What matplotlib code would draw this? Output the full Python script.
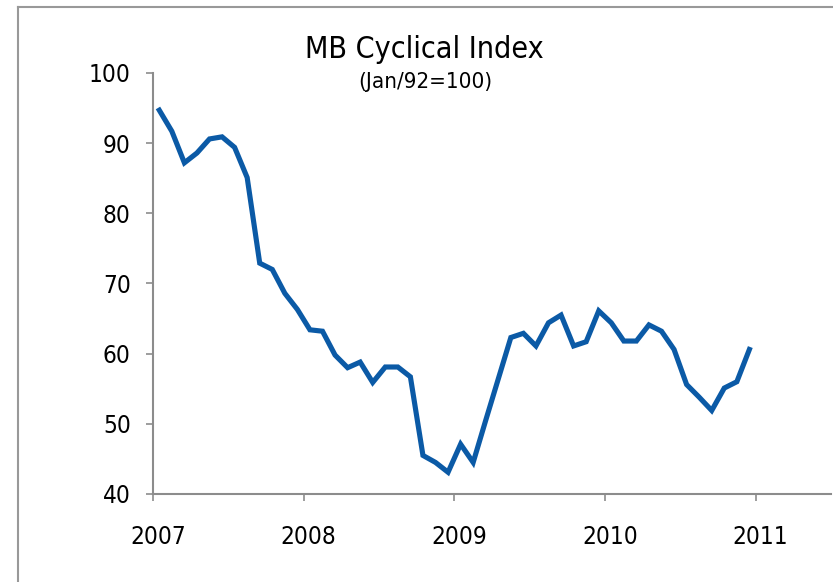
import matplotlib
matplotlib.use('Agg')
import matplotlib.pyplot as plt
from matplotlib import font_manager
from matplotlib.transforms import ScaledTranslation

# monthly index, Jan 2007 - Dec 2010
values = [94.7, 91.7, 87.2, 88.6, 90.6, 90.9, 89.4, 85.1, 72.9, 72.0, 68.6, 66.3,
          63.4, 63.2, 59.8, 58.0, 58.8, 55.9, 58.1, 58.1, 56.7, 45.5, 44.5, 43.1,
          47.1, 44.5, 50.5, 56.4, 62.3, 62.9, 61.1, 64.4, 65.5, 61.1, 61.7, 66.1,
          64.4, 61.8, 61.8, 64.1, 63.2, 60.6, 55.6, 53.8, 51.9, 55.1, 56.0, 60.6]
years = ['2007', '2008', '2009', '2010', '2011']
yticks = [40, 50, 60, 70, 80, 90, 100]

months = [i + 0.5 for i in range(len(values))]

# Tahoma-ish look: condensed DejaVu if it is there, else Liberation Sans Narrow
cond = font_manager.findfont(font_manager.FontProperties(family='DejaVu Sans', stretch='condensed'))
if 'Condensed' in cond:
    plt.rcParams['font.family'] = ['DejaVu Sans']
    plt.rcParams['font.stretch'] = 'condensed'
    sizes = (17.5, 21.8, 16.0)
else:
    plt.rcParams['font.family'] = ['Liberation Sans Narrow', 'DejaVu Sans']
    sizes = (19.0, 23.4, 17.5)
tick_size, title_size, sub_size = sizes

fig = plt.figure(figsize=(8.33, 5.82), dpi=100)
ax = fig.add_axes([153 / 833, 1 - 494 / 582, (831 - 153) / 833, (494 - 73) / 582])

ax.plot(months, values, color='#0b5aa6', lw=3.7, solid_joinstyle='miter')

ax.set_xlim(0, 54)
ax.set_ylim(40, 100)
ax.set_xticks([12 * k for k in range(len(years))])
ax.set_xticklabels(years)
ax.set_yticks(yticks)

grey = '#8c8c8c'
for side in ['top', 'right']:
    ax.spines[side].set_visible(False)
for side in ['left', 'bottom']:
    ax.spines[side].set_color(grey)
    ax.spines[side].set_linewidth(1.5)
ax.tick_params(axis='both', color=grey, width=1.2, length=5, labelsize=tick_size)
ax.tick_params(axis='y', pad=11)
ax.tick_params(axis='x', pad=17)
for lbl in ax.get_xticklabels():
    lbl.set_transform(lbl.get_transform() + ScaledTranslation(5 / 100, 0, fig.dpi_scale_trans))

fig.text(0.509, 1 - 58 / 582, 'MB Cyclical Index', ha='center', va='baseline', fontsize=title_size)
fig.text(0.511, 1 - 88 / 582, '(Jan/92=100)', ha='center', va='baseline', fontsize=sub_size)

# chart frame (only left and top edges are in view)
fig.add_artist(plt.Line2D([17.5 / 833, 17.5 / 833], [0, 1 - 6.5 / 582], color='#999999', lw=1.5,
                          transform=fig.transFigure))
fig.add_artist(plt.Line2D([17.5 / 833, 1], [1 - 6.5 / 582, 1 - 6.5 / 582], color='#999999', lw=1.5,
                          transform=fig.transFigure))

plt.savefig('out.png', dpi=100)
plt.close(fig)
